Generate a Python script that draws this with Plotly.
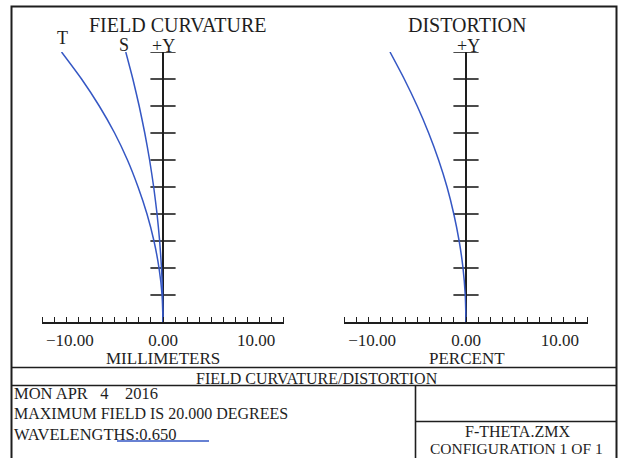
import plotly.graph_objects as go

W, H = 621, 458

# Normalised field height (0 = on axis, 1 = 20 degree full field)
field = [0.0, 0.1, 0.2, 0.3, 0.4, 0.5, 0.6, 0.7, 0.8, 0.9, 1.0]
# Field curvature, tangential and sagittal focus shift (mm)
tangential_mm = [0.0, -0.10, -0.43, -0.97, -1.72, -2.68, -3.82, -5.20, -6.85, -8.75, -10.90]
sagittal_mm = [0.0, -0.04, -0.16, -0.36, -0.64, -1.00, -1.44, -1.96, -2.56, -3.24, -4.00]
# F-theta distortion (percent)
distortion_pct = [0.0, -0.08, -0.32, -0.73, -1.30, -2.02, -2.92, -3.98, -5.20, -6.58, -8.10]

field_ticks = [0.1, 0.2, 0.3, 0.4, 0.5, 0.6, 0.7, 0.8, 0.9, 1.0]
x_tick_vals = [-10, 0, 10]
x_tick_text = ["\u221210.00", "0.00", "10.00"]
x_half_span = 13.0
x_minor_step = 1.3

INK = "#1e1e1e"
BLUE = "#3557c4"
SERIF = "Liberation Serif, Times New Roman, serif"


def px(x):
    return x / W


def py(y):
    return 1 - y / H


fig = go.Figure()

# field tick marks crossing the vertical (zero) axes
for xa, ya in (("x", "y"), ("x2", "y2")):
    fig.add_trace(go.Scatter(
        x=[0] * len(field_ticks), y=field_ticks, xaxis=xa, yaxis=ya,
        mode="markers", hoverinfo="skip", showlegend=False,
        marker=dict(symbol="line-ew", size=18, line=dict(width=1.6, color=INK)),
    ))

curve_style = dict(color=BLUE, width=1.5, shape="spline", smoothing=0.6)
fig.add_trace(go.Scatter(x=tangential_mm, y=field, mode="lines", line=curve_style,
                         xaxis="x", yaxis="y", showlegend=False, name="T"))
fig.add_trace(go.Scatter(x=sagittal_mm, y=field, mode="lines", line=curve_style,
                         xaxis="x", yaxis="y", showlegend=False, name="S"))
fig.add_trace(go.Scatter(x=distortion_pct, y=field, mode="lines", line=curve_style,
                         xaxis="x2", yaxis="y2", showlegend=False, name="Distortion"))

minor_vals = [i * x_minor_step for i in range(-10, 11)]
x_common = dict(
    range=[-x_half_span - 0.001, x_half_span + 0.001],
    showgrid=False, zeroline=True, zerolinecolor=INK, zerolinewidth=1.6,
    showline=True, linecolor=INK, linewidth=1.6,
    tickmode="array", tickvals=x_tick_vals, ticktext=x_tick_text, ticks="",
    ticklabelstandoff=2,
    tickfont=dict(family=SERIF, size=17, color=INK),
    minor=dict(tickmode="array", tickvals=minor_vals, ticks="inside", ticklen=5,
               tickwidth=1.3, tickcolor=INK, showgrid=False),
    fixedrange=True,
)
y_common = dict(range=[0, 1], visible=False, fixedrange=True)

y_dom = [py(322), py(52)]
fig.update_layout(
    width=W, height=H, margin=dict(l=0, r=0, t=0, b=0),
    paper_bgcolor="white", plot_bgcolor="white",
    xaxis=dict(domain=[px(42), px(284)], anchor="y", **x_common),
    yaxis=dict(domain=y_dom, anchor="x", **y_common),
    xaxis2=dict(domain=[px(344), px(588)], anchor="y2", **x_common),
    yaxis2=dict(domain=y_dom, anchor="x2", **y_common),
    showlegend=False,
)

annotations = []


def label(text, x, y, size=17, xanchor="center"):
    annotations.append(dict(
        text=text, x=px(x), y=py(y), xref="paper", yref="paper",
        xanchor=xanchor, yanchor="middle", showarrow=False,
        font=dict(family=SERIF, size=size, color=INK),
    ))


label("FIELD CURVATURE", 177.5, 25, size=20)
label("DISTORTION", 466.5, 25, size=20)
label("T", 62, 38, size=18)
label("S", 124, 45, size=18)
label("+Y", 163, 46, size=18)
label("+Y", 468, 46, size=18)
label("MILLIMETERS", 163, 358)
label("PERCENT", 467, 358)
label("FIELD CURVATURE/DISTORTION", 317, 378, size=16)
label("MON APR\u00a0\u00a0\u00a04\u00a0\u00a0\u00a0\u00a02016", 12, 393, size=16.5, xanchor="left")
label("MAXIMUM FIELD IS 20.000 DEGREES", 12, 413, size=16, xanchor="left")
label("WAVELENGTHS:0.650", 12, 434, size=16.5, xanchor="left")
label("F-THETA.ZMX", 517, 431, size=16)
label("CONFIGURATION 1 OF 1", 516, 448.5, size=15.5)
fig.update_layout(annotations=annotations)

frame = dict(type="line", xref="paper", yref="paper", line=dict(color=INK, width=1.6))
shapes = [
    dict(type="rect", xref="paper", yref="paper", x0=px(11.5), y0=py(470), x1=px(616.5), y1=py(6.5),
         line=dict(color=INK, width=2)),
    dict(frame, x0=px(11.5), x1=px(616.5), y0=py(367.5), y1=py(367.5)),
    dict(frame, x0=px(11.5), x1=px(616.5), y0=py(385.5), y1=py(385.5)),
    dict(frame, x0=px(415.5), x1=px(415.5), y0=py(385.5), y1=py(470)),
    dict(frame, x0=px(415.5), x1=px(616.5), y0=py(421.5), y1=py(421.5)),
    # wavelength key
    dict(type="line", xref="paper", yref="paper", x0=px(117), x1=px(209), y0=py(441), y1=py(441),
         line=dict(color=BLUE, width=1.5)),
]
fig.update_layout(shapes=shapes)

fig.write_html("out.html")
